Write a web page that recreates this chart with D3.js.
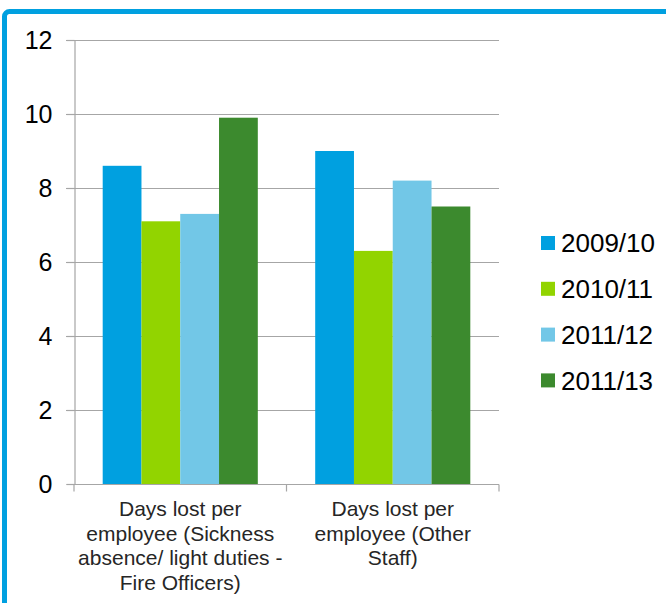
<!DOCTYPE html>
<html>
<head>
<meta charset="utf-8">
<script src="https://cdn.jsdelivr.net/npm/d3@7"></script>
<style>
  html, body { margin: 0; padding: 0; background: #fff; }
  svg { display: block; font-family: "Liberation Sans", Arial, sans-serif; }
</style>
</head>
<body>
<div id="chart"></div>
<script>
// Chart data
var categories = [
    "Days lost per employee (Sickness absence/ light duties - Fire Officers)",
    "Days lost per employee (Other Staff)"
];
// how the category labels break onto lines
var categoryLines = [
    ["Days lost per", "employee (Sickness", "absence/ light duties -", "Fire Officers)"],
    ["Days lost per", "employee (Other", "Staff)"]
];
var series = ["2009/10", "2010/11", "2011/12", "2011/13"];
var values2009 = [8.6, 9.0];
var values2010 = [7.1, 6.3];
var values2011 = [7.3, 8.2];
var values2012 = [9.9, 7.5];
var yTicks = [0, 2, 4, 6, 8, 10, 12];

var seriesValues = [values2009, values2010, values2011, values2012];
var colors = ["#00a0e0", "#92d400", "#72c7e7", "#3c8a2e"];

var width = 666;
var height = 603;

var svg = d3.select("#chart").append("svg")
    .attr("width", width)
    .attr("height", height);

// Blue frame (only top and left edges are in view)
svg.append("rect")
    .attr("x", 4.5)
    .attr("y", 11.5)
    .attr("width", 800)
    .attr("height", 800)
    .attr("rx", 5)
    .attr("fill", "none")
    .attr("stroke", "#00a0e0")
    .attr("stroke-width", 5);

// Plot area
var plot = {left: 74, right: 499, top: 40, bottom: 484};

var y = d3.scaleLinear()
    .domain([0, 12])
    .range([plot.bottom, plot.top]);

var x0 = d3.scaleBand()
    .domain(categories)
    .range([plot.left, plot.right])
    .padding(0);

var x1 = d3.scaleBand()
    .domain(series)
    .range([0, x0.bandwidth()])
    .paddingInner(0)
    .paddingOuter(0.74);

// Gridlines
svg.append("g")
    .selectAll("line")
    .data(yTicks.filter(function(d) { return d > 0; }))
    .enter().append("line")
    .attr("x1", plot.left - 8)
    .attr("x2", plot.right)
    .attr("y1", function(d) { return Math.round(y(d)) + 0.5; })
    .attr("y2", function(d) { return Math.round(y(d)) + 0.5; })
    .attr("stroke", "#a6a6a6")
    .attr("stroke-width", 1.2);

// Bars
var groups = svg.append("g")
    .selectAll("g")
    .data(categories)
    .enter().append("g")
    .attr("transform", function(d) { return "translate(" + x0(d) + ",0)"; });

groups.selectAll("rect")
    .data(function(d, i) {
        return series.map(function(s, j) {
            return {series: s, value: seriesValues[j][i], color: colors[j]};
        });
    })
    .enter().append("rect")
    .attr("x", function(d) { return x1(d.series); })
    .attr("y", function(d) { return y(d.value); })
    .attr("width", x1.bandwidth())
    .attr("height", function(d) { return y(0) - y(d.value); })
    .attr("fill", function(d) { return d.color; });

// Y axis
var yAxis = svg.append("g")
    .attr("transform", "translate(" + (plot.left + 0.5) + ",0)")
    .call(d3.axisLeft(y).tickValues(yTicks).tickSize(8).tickPadding(14).tickFormat(d3.format("d")));
yAxis.select(".domain").attr("stroke", "#a6a6a6").attr("stroke-width", 1.2);
yAxis.selectAll(".tick line").attr("stroke", "#a6a6a6").attr("stroke-width", 1.2);
yAxis.selectAll(".tick text")
    .attr("fill", "#000")
    .style("font-size", "25px")
    .style("font-family", "Liberation Sans, Arial, sans-serif");

// X axis
var xAxis = svg.append("g")
    .attr("transform", "translate(0," + (plot.bottom + 0.5) + ")");
xAxis.append("line")
    .attr("x1", plot.left)
    .attr("x2", plot.right)
    .attr("stroke", "#a6a6a6")
    .attr("stroke-width", 1.2);
var xTickPos = categories.map(function(c) { return x0(c); }).concat([plot.right]);
xAxis.selectAll(".cat-tick")
    .data(xTickPos)
    .enter().append("line")
    .attr("class", "cat-tick")
    .attr("x1", function(d) { return d; })
    .attr("x2", function(d) { return d; })
    .attr("y1", 0)
    .attr("y2", 7)
    .attr("stroke", "#a6a6a6")
    .attr("stroke-width", 1.2);

// Category labels
var labels = svg.append("g")
    .selectAll("text")
    .data(categories)
    .enter().append("text")
    .attr("x", function(d) { return x0(d) + x0.bandwidth() / 2; })
    .attr("y", plot.bottom + 32)
    .attr("text-anchor", "middle")
    .attr("fill", "#262626")
    .style("font-size", "21px");

labels.each(function(d, i) {
    var t = d3.select(this);
    categoryLines[i].forEach(function(line, k) {
        t.append("tspan")
            .attr("x", x0(d) + x0.bandwidth() / 2)
            .attr("dy", k === 0 ? 0 : 24.7)
            .text(line);
    });
});

// Legend
var legend = svg.append("g")
    .attr("transform", "translate(541,243)");

var legendItem = legend.selectAll("g")
    .data(series)
    .enter().append("g")
    .attr("transform", function(d, i) { return "translate(0," + (i * 45.8) + ")"; });

legendItem.append("rect")
    .attr("x", 0)
    .attr("y", -7)
    .attr("width", 14)
    .attr("height", 14)
    .attr("fill", function(d, i) { return colors[i]; });

legendItem.append("text")
    .attr("x", 20)
    .attr("y", 0)
    .attr("dy", "0.36em")
    .attr("fill", "#000")
    .style("font-size", "26px")
    .text(function(d) { return d; });
</script>
</body>
</html>
